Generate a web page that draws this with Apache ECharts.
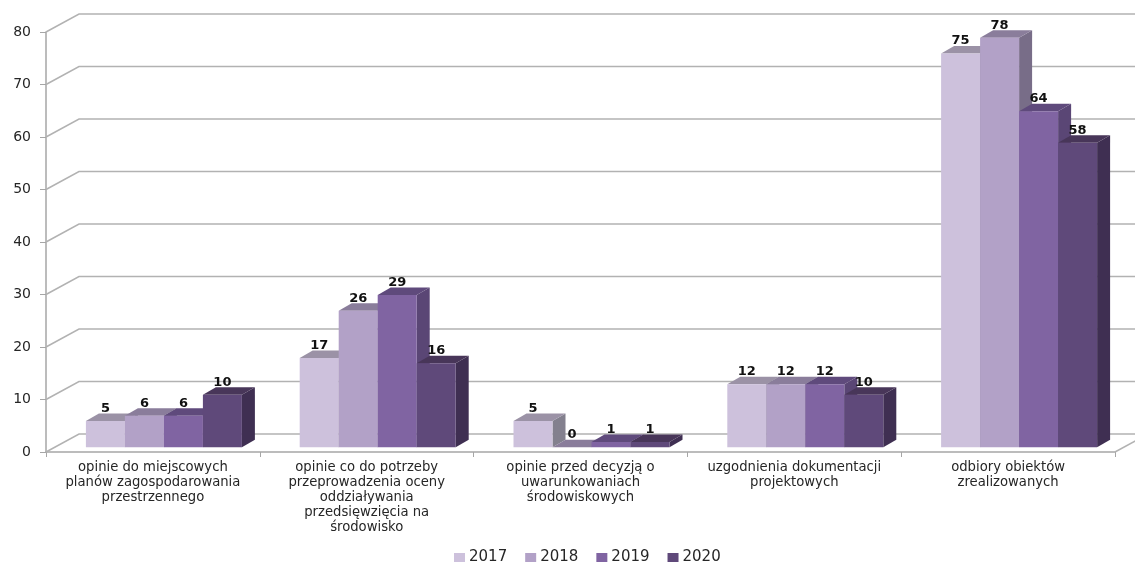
<!DOCTYPE html>
<html><head><meta charset="utf-8">
<style>html,body{margin:0;padding:0;background:#fff}#c{width:1135px;height:563px}</style>
<script src="https://cdn.jsdelivr.net/npm/echarts@6/dist/echarts.min.js"></script>
</head><body><div id="c"></div>
<script>
const categories = [
  "opinie do miejscowych\nplanów zagospodarowania\nprzestrzennego",
  "opinie co do potrzeby\nprzeprowadzenia oceny\noddziaływania\nprzedsięwzięcia na\nśrodowisko",
  "opinie przed decyzją o\nuwarunkowaniach\nśrodowiskowych",
  "uzgodnienia dokumentacji\nprojektowych",
  "odbiory obiektów\nzrealizowanych"
];
const v2017 = [5, 17, 5, 12, 75];
const v2018 = [6, 26, 0, 12, 78];
const v2019 = [6, 29, 1, 12, 64];
const v2020 = [10, 16, 1, 10, 58];
const yTicks = [0, 10, 20, 30, 40, 50, 60, 70, 80];

const FONT = '"DejaVu Sans", sans-serif';
const BAR_W = 39, DX = 13, DY = -7.5, SHIFT_X = 11, SHIFT_Y = -4.7, WALL_X = 33, WALL_Y = -18;

function barRenderer(idx, colors) {
  return function (params, api) {
    const c = api.coord([api.value(0), api.value(1)]);
    const b = api.coord([api.value(0), 0]);
    const x0 = c[0] + SHIFT_X - 2 * BAR_W + idx * BAR_W, x1 = x0 + BAR_W;
    const yT = c[1] + SHIFT_Y, yB = b[1] + SHIFT_Y;
    return {
      type: 'group',
      children: [
        { type: 'polygon', shape: { points: [[x1, yB], [x1 + DX, yB + DY], [x1 + DX, yT + DY], [x1, yT]] }, style: { fill: colors.side } },
        { type: 'polygon', shape: { points: [[x0, yT], [x0 + DX, yT + DY], [x1 + DX, yT + DY], [x1, yT]] }, style: { fill: colors.top } },
        { type: 'rect', shape: { x: x0, y: yT, width: BAR_W, height: yB - yT }, style: { fill: colors.front } },
        { type: 'text', z2: 50, style: { text: String(api.value(1)), x: x0 + BAR_W / 2, y: yT - 12.5, align: 'center', verticalAlign: 'middle', fill: '#111', font: 'bold 13px ' + FONT } }
      ]
    };
  };
}

function wallRenderer(params, api) {
  const p = api.coord([0, api.value(0)]);
  const r = params.coordSys;
  const xL = r.x, xR = r.x + r.width, y = p[1];
  const ls = { stroke: '#b2b2b2', lineWidth: 1.5, fill: null };
  const children = [{ type: 'polyline', shape: { points: [[xL, y], [xL + WALL_X, y + WALL_Y], [xR + WALL_X, y + WALL_Y]] }, style: ls }];
  if (api.value(0) === 0) {
    children.push({ type: 'line', shape: { x1: xR, y1: y, x2: xR + WALL_X, y2: y + WALL_Y }, style: ls });
  }
  return { type: 'group', children };
}

const palette = [
  { name: '2017', data: v2017, front: '#cdc1dc', top: '#9b92a6', side: '#83808e' },
  { name: '2018', data: v2018, front: '#b2a1c7', top: '#8a7d9b', side: '#786d88' },
  { name: '2019', data: v2019, front: '#8064a2', top: '#5f4a7c', side: '#5a4675' },
  { name: '2020', data: v2020, front: '#5f497a', top: '#483659', side: '#3f2f52' }
];

const chart = echarts.init(document.getElementById('c'), null, { renderer: 'canvas' });
chart.setOption({
  animation: false,
  backgroundColor: '#fff',
  grid: { left: 46, right: 20, top: 32, height: 420, containLabel: false },
  legend: {
    data: ['2017', '2018', '2019', '2020'],
    left: 449, top: 545, icon: 'rect', itemWidth: 11, itemHeight: 9, itemGap: 18,
    textStyle: { fontFamily: FONT, fontSize: 15, color: '#262626', padding: [0, 0, 0, -1] }
  },
  xAxis: {
    type: 'category', data: categories, boundaryGap: true,
    axisLine: { lineStyle: { color: '#a6a6a6', width: 1.5 } },
    axisTick: { show: true, alignWithLabel: false, length: 5, lineStyle: { color: '#a6a6a6' } },
    axisLabel: { interval: 0, margin: 8, fontFamily: FONT, fontSize: 13.2, lineHeight: 15, color: '#262626' }
  },
  yAxis: {
    type: 'value', min: 0, max: 80, interval: 10,
    splitLine: { show: false },
    axisLine: { show: true, lineStyle: { color: '#a6a6a6', width: 1.5 } },
    axisTick: { show: true, length: 6, lineStyle: { color: '#a6a6a6' } },
    axisLabel: { margin: 15, padding: [3, 0, 0, 0], fontFamily: FONT, fontSize: 14, color: '#262626' }
  },
  series: [
    { type: 'custom', name: 'wall', silent: true, z: 1, coordinateSystem: 'cartesian2d', encode: { y: 0 },
      data: yTicks.map(v => [v]), renderItem: wallRenderer }
  ].concat(palette.map((s, idx) => ({
    type: 'custom', name: s.name, z: 2 + idx, coordinateSystem: 'cartesian2d',
    itemStyle: { color: s.front }, encode: { x: 0, y: 1 },
    data: s.data.map((v, i) => [i, v]),
    renderItem: barRenderer(idx, s)
  })))
});
</script></body></html>
